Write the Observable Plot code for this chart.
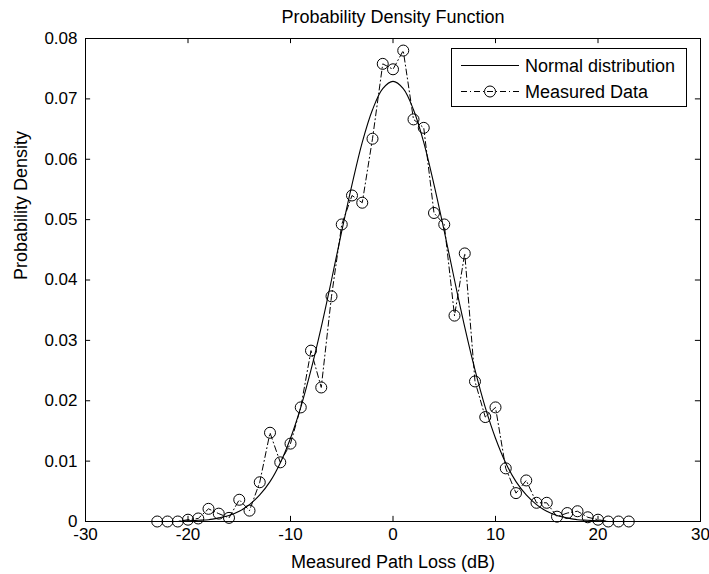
<!DOCTYPE html>
<html>
<head>
<meta charset="utf-8">
<script src="https://cdn.jsdelivr.net/npm/d3@7"></script>
<script src="https://cdn.jsdelivr.net/npm/@observablehq/plot@0.6"></script>
<style>
  body { margin: 0; background: #fff; }
  #wrap { position: relative; width: 709px; height: 574px; font-family: "Liberation Sans", Arial, sans-serif; }
  #legend { position: absolute; left: 451px; top: 48px; width: 234px; height: 57px; border: 1px solid #000; background: #fff; }
  #wrap svg g[aria-label="x-axis tick label"] text,
  #wrap svg g[aria-label="y-axis tick label"] text { font-size: 17px; }
</style>
</head>
<body>
<div id="wrap"></div>
<script>
// Measured data (x in dB, y probability density)
const measuredX = [-23,-22,-21,-20,-19,-18,-17,-16,-15,-14,-13,-12,-11,-10,-9,-8,-7,-6,-5,-4,-3,-2,-1,0,1,2,3,4,5,6,7,8,9,10,11,12,13,14,15,16,17,18,19,20,21,22,23];
const measuredY = [0,0,0,0.0003,0.0005,0.0021,0.0013,0.0006,0.0036,0.0018,0.0065,0.0147,0.0098,0.0129,0.0189,0.0283,0.0222,0.0373,0.0492,0.0540,0.0528,0.0634,0.0758,0.0749,0.0780,0.0666,0.0652,0.0511,0.0492,0.0341,0.0444,0.0232,0.0173,0.0189,0.0088,0.0047,0.0068,0.0031,0.0031,0.0008,0.0014,0.0017,0.0007,0.0003,0,0,0];

// Normal distribution curve
const normalX = [-30,-29,-28,-27,-26,-25,-24,-23,-22,-21,-20,-19,-18,-17,-16,-15,-14,-13,-12,-11,-10,-9,-8,-7,-6,-5,-4,-3,-2,-1,0,1,2,3,4,5,6,7,8,9,10,11,12,13,14,15,16,17,18,19,20,21,22,23,24,25,26,27,28,29,30];
const normalY = [0,0,0,0,0,0,0,0,0,0,0.0001,0.0002,0.0003,0.0006,0.0010,0.0017,0.0028,0.0044,0.0066,0.0097,0.0138,0.0189,0.0251,0.0322,0.0400,0.0481,0.0558,0.0628,0.0682,0.0717,0.0729,0.0717,0.0682,0.0628,0.0558,0.0481,0.0400,0.0322,0.0251,0.0189,0.0138,0.0097,0.0066,0.0044,0.0028,0.0017,0.0010,0.0006,0.0003,0.0002,0.0001,0,0,0,0,0,0,0,0,0,0];

const xTicks = [-30,-20,-10,0,10,20,30];
const yTicks = [0,0.01,0.02,0.03,0.04,0.05,0.06,0.07,0.08];

const titleText = "Probability Density Function";
const xLabel = "Measured Path Loss (dB)";
const yLabel = "Probability Density";
const legendLabels = ["Normal distribution", "Measured Data"];

const measured = measuredX.map((x, i) => ({x, y: measuredY[i]}));
const normal = normalX.map((x, i) => ({x, y: normalY[i]}));

const dash = "6,3,1,3";

const chart = Plot.plot({
  width: 709,
  height: 574,
  marginLeft: 85,
  marginRight: 9,
  marginTop: 38,
  marginBottom: 53,
  style: {fontFamily: "'Liberation Sans', Arial, sans-serif", fontSize: "18px", color: "#000", background: "#fff"},
  x: {domain: [-30, 30], ticks: xTicks, tickSize: 0, tickPadding: 6, label: null,
      tickFormat: d => String(d)},
  y: {domain: [0, 0.08], ticks: yTicks, tickSize: 0, tickPadding: 8, label: null,
      tickFormat: d => d === 0 ? "0" : d.toFixed(2)},
  marks: [
    Plot.line(normal, {x: "x", y: "y", stroke: "#000", strokeWidth: 1.1, curve: "catmull-rom"}),
    Plot.line(measured, {x: "x", y: "y", stroke: "#000", strokeWidth: 1, strokeDasharray: dash}),
    Plot.dot(measured, {x: "x", y: "y", r: 5.5, stroke: "#000", fill: "none", strokeWidth: 1}),
    // inward ticks on all four sides
    Plot.ruleX(xTicks, {x: d => d, y1: 0, y2: 0.00085, stroke: "#000"}),
    Plot.ruleX(xTicks, {x: d => d, y1: 0.08, y2: 0.07915, stroke: "#000"}),
    Plot.ruleY(yTicks, {y: d => d, x1: -30, x2: -29.5, stroke: "#000"}),
    Plot.ruleY(yTicks, {y: d => d, x1: 30, x2: 29.5, stroke: "#000"}),
    Plot.frame({stroke: "#000", strokeWidth: 1}),
    Plot.text([titleText], {frameAnchor: "top", dy: -21, text: d => d, lineAnchor: "middle", fill: "#000", fontSize: 18}),
    Plot.text([xLabel], {frameAnchor: "bottom", dy: 41, text: d => d, lineAnchor: "middle", fill: "#000", fontSize: 18}),
    Plot.text([yLabel], {frameAnchor: "left", dx: -64, rotate: -90, text: d => d, lineAnchor: "middle", fill: "#000", fontSize: 18})
  ]
});

const wrap = document.getElementById("wrap");
wrap.appendChild(chart);

// Legend
const legend = document.createElement("div");
legend.id = "legend";
legend.innerHTML = `
<svg width="234" height="57" style="position:absolute;left:0;top:0;font-family:'Liberation Sans', Arial, sans-serif;font-size:18px">
  <line x1="9" x2="67" y1="16.5" y2="16.5" stroke="#000" stroke-width="1"/>
  <text x="73" y="16.5" dy="0.35em" fill="#000">${legendLabels[0]}</text>
  <line x1="9" x2="67" y1="42.5" y2="42.5" stroke="#000" stroke-width="1" stroke-dasharray="${dash}"/>
  <circle cx="38" cy="42.5" r="5.5" fill="none" stroke="#000"/>
  <text x="73" y="42.5" dy="0.35em" fill="#000">${legendLabels[1]}</text>
</svg>`;
wrap.appendChild(legend);
</script>
</body>
</html>
